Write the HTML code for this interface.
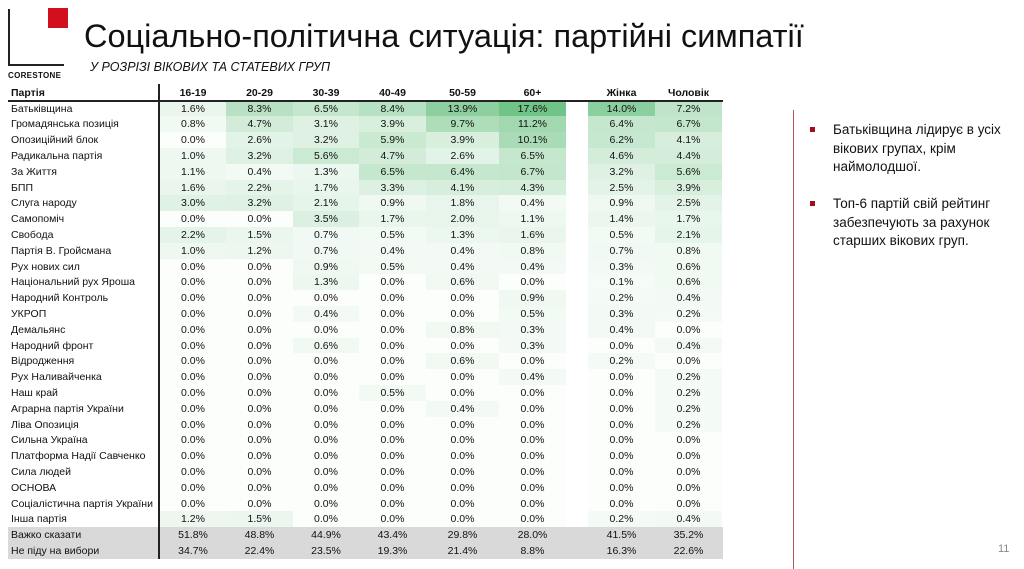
<!DOCTYPE html>
<html><head><meta charset="utf-8">
<style>
body{margin:0;width:1024px;height:569px;background:#fff;position:relative;overflow:hidden;font-family:"Liberation Sans","DejaVu Sans",sans-serif;color:#111}
.a{position:absolute}
.c{position:absolute;font-size:10.5px;line-height:16px;height:16px;text-align:center;white-space:nowrap}
.n{position:absolute;font-size:10.5px;line-height:16px;height:16px;white-space:nowrap;left:11px}
</style></head><body>
<div class="a" style="left:8px;top:9px;width:1.5px;height:56px;background:#222"></div>
<div class="a" style="left:8px;top:64px;width:56px;height:1.5px;background:#222"></div>
<div class="a" style="left:48px;top:8px;width:20px;height:20px;background:#d2101d"></div>
<div class="a" style="left:8px;top:71px;font-size:8px;font-weight:bold;letter-spacing:0.3px">CORESTONE</div>
<div class="a" style="left:84px;top:18px;font-size:32.5px;color:#111;white-space:nowrap">Соціально-політична ситуація: партійні симпатії</div>
<div class="a" style="left:90px;top:60px;font-size:12.5px;font-style:italic;white-space:nowrap">У РОЗРІЗІ ВІКОВИХ ТА СТАТЕВИХ ГРУП</div>
<div id="t"></div>
<div class="a" style="left:158px;top:84px;width:2px;height:475px;background:#222"></div>
<div class="a" style="left:8px;top:100px;width:715px;height:2px;background:#222"></div>
<div class="a" style="left:793px;top:110px;width:1px;height:459px;background:#b5565c"></div>
<div class="a" style="left:810px;top:127px;width:5px;height:5px;background:#a0101a"></div>
<div class="a" style="left:810px;top:201px;width:5px;height:5px;background:#a0101a"></div>
<div class="a" style="left:833px;top:121px;font-size:13.5px;line-height:18.5px;width:190px">Батьківщина лідирує в усіх вікових групах, крім наймолодшої.</div>
<div class="a" style="left:833px;top:195px;font-size:13.5px;line-height:18.5px;width:190px">Топ-6 партій свій рейтинг забезпечують за рахунок старших вікових груп.</div>
<div class="a" style="left:998px;top:543px;font-size:11px;color:#888">11</div>
<script>
var d=[["Батьківщина",1.6,8.3,6.5,8.4,13.9,17.6,14.0,7.2],
["Громадянська позиція",0.8,4.7,3.1,3.9,9.7,11.2,6.4,6.7],
["Опозиційний блок",0.0,2.6,3.2,5.9,3.9,10.1,6.2,4.1],
["Радикальна партія",1.0,3.2,5.6,4.7,2.6,6.5,4.6,4.4],
["За Життя",1.1,0.4,1.3,6.5,6.4,6.7,3.2,5.6],
["БПП",1.6,2.2,1.7,3.3,4.1,4.3,2.5,3.9],
["Слуга народу",3.0,3.2,2.1,0.9,1.8,0.4,0.9,2.5],
["Самопоміч",0.0,0.0,3.5,1.7,2.0,1.1,1.4,1.7],
["Свобода",2.2,1.5,0.7,0.5,1.3,1.6,0.5,2.1],
["Партія В. Гройсмана",1.0,1.2,0.7,0.4,0.4,0.8,0.7,0.8],
["Рух нових сил",0.0,0.0,0.9,0.5,0.4,0.4,0.3,0.6],
["Національний рух Яроша",0.0,0.0,1.3,0.0,0.6,0.0,0.1,0.6],
["Народний Контроль",0.0,0.0,0.0,0.0,0.0,0.9,0.2,0.4],
["УКРОП",0.0,0.0,0.4,0.0,0.0,0.5,0.3,0.2],
["Демальянс",0.0,0.0,0.0,0.0,0.8,0.3,0.4,0.0],
["Народний фронт",0.0,0.0,0.6,0.0,0.0,0.3,0.0,0.4],
["Відродження",0.0,0.0,0.0,0.0,0.6,0.0,0.2,0.0],
["Рух Наливайченка",0.0,0.0,0.0,0.0,0.0,0.4,0.0,0.2],
["Наш край",0.0,0.0,0.0,0.5,0.0,0.0,0.0,0.2],
["Аграрна партія України",0.0,0.0,0.0,0.0,0.4,0.0,0.0,0.2],
["Ліва Опозиція",0.0,0.0,0.0,0.0,0.0,0.0,0.0,0.2],
["Сильна Україна",0.0,0.0,0.0,0.0,0.0,0.0,0.0,0.0],
["Платформа Надії Савченко",0.0,0.0,0.0,0.0,0.0,0.0,0.0,0.0],
["Сила людей",0.0,0.0,0.0,0.0,0.0,0.0,0.0,0.0],
["ОСНОВА",0.0,0.0,0.0,0.0,0.0,0.0,0.0,0.0],
["Соціалістична партія України",0.0,0.0,0.0,0.0,0.0,0.0,0.0,0.0],
["Інша партія",1.2,1.5,0.0,0.0,0.0,0.0,0.2,0.4],
["Важко сказати",51.8,48.8,44.9,43.4,29.8,28.0,41.5,35.2],
["Не піду на вибори",34.7,22.4,23.5,19.3,21.4,8.8,16.3,22.6]];
var cx=[160,226,293,359,426,499,588,655],cw=[66,67,66,67,73,67,67,67];
var hd=["16-19","20-29","30-39","40-49","50-59","60+","Жінка","Чоловік"];
var h='<div class="n" style="top:85px;font-weight:bold">Партія</div>';
for(var j=0;j<8;j++)h+='<div class="c" style="top:85px;font-weight:bold;left:'+cx[j]+'px;width:'+cw[j]+'px">'+hd[j]+'</div>';
var rh=15.8,y0=100.5;
for(var i=0;i<d.length;i++){var y=y0+i*rh;
 if(i>=27)h+='<div class="a" style="left:8px;top:'+y+'px;width:715px;height:'+(rh+0.5)+'px;background:#d9d9d9"></div>';
 h+='<div class="n" style="top:'+y+'px">'+d[i][0]+'</div>';
 for(j=0;j<8;j++){var v=d[i][j+1],bg='';
  if(i<27){var t=Math.min(v/17.6,1)*0.85+(v>0?0.06:0.02);var r=Math.round(255-(255-99)*t),g=Math.round(255-(255-190)*t),b=Math.round(255-(255-123)*t);bg='background:rgb('+r+','+g+','+b+');';}
  h+='<div class="c" style="'+bg+'top:'+y+'px;left:'+cx[j]+'px;width:'+cw[j]+'px;height:'+(rh+0.5)+'px">'+v.toFixed(1)+'%</div>';}
}
document.getElementById('t').innerHTML=h;
</script>
</body></html>
